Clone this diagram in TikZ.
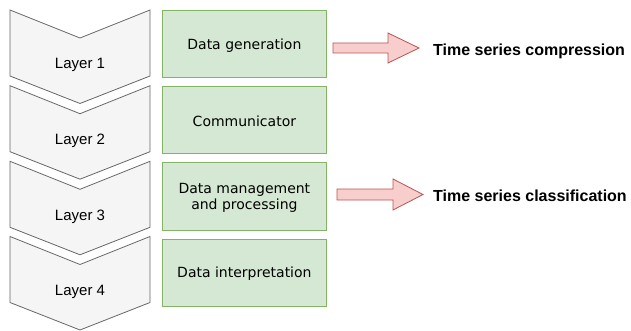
\documentclass[tikz,border=0pt]{standalone}
\usepackage{fontspec}
\setmainfont{Liberation Sans}
\newfontfamily\boxfont{DejaVu Sans}
\definecolor{chevfill}{HTML}{F5F5F5}
\definecolor{chevline}{HTML}{666666}
\definecolor{grnfill}{HTML}{D5E8D4}
\definecolor{grnline}{HTML}{82B366}
\definecolor{redfill}{HTML}{F8CECC}
\definecolor{redline}{HTML}{B85450}
\begin{document}
\begin{tikzpicture}[x=1pt,y=-1pt,
  chev/.style={fill=chevfill,draw=chevline,line width=0.8pt,line join=miter},
  layerlabel/.style={font=\fontsize{15}{18}\selectfont,text=black,inner sep=0pt,anchor=base},
  greenbox/.style={fill=grnfill,draw=grnline,line width=0.8pt,minimum width=164pt,minimum height=67pt,
    inner sep=0pt,anchor=north west},
  boxtext/.style={align=center,font=\boxfont\fontsize{14}{16}\selectfont,inner sep=0pt},
  bigarrow/.style={fill=redfill,draw=redline,line width=0.8pt,line join=miter},
  outlabel/.style={font=\bfseries\fontsize{16}{19}\selectfont,anchor=base west,inner sep=0pt}]
\useasboundingbox (0,0) rectangle (631,331);
% chevrons
\foreach \t/\n in {10/1,85.7/2,161.3/3,236.5/4}{
  \draw[chev] (10,\t) -- (80,\t+28) -- (150,\t) -- (150,\t+66) -- (80,\t+93.5) -- (10,\t+66) -- cycle;
  \node[layerlabel] (layer\n) at (80,\t+59) {Layer \n};
}
% green boxes
\node[greenbox] (b1) at (162,10) {};
\node[greenbox] (b2) at (162,86) {};
\node[greenbox] (b3) at (162,162.5) {};
\node[greenbox] (b4) at (162,238.5) {};
\node[boxtext] (l1) at ([yshift=-1.5pt]b1.center) {Data generation};
\node[boxtext] (l2) at ([yshift=-1.5pt]b2.center) {Communicator};
\node[boxtext] (l3) at ([yshift=-1.5pt]b3.center) {Data management\\and processing};
\node[boxtext] (l4) at ([yshift=-1.5pt]b4.center) {Data interpretation};
% arrows
\draw[bigarrow] (333,43) -- (388,43) -- (388,33) -- (419,48) -- (388,63) -- (388,53) -- (333,53) -- cycle;
\draw[bigarrow] (337,189) -- (393,189) -- (393,179) -- (423,194.5) -- (393,210) -- (393,200) -- (337,200) -- cycle;
% labels
\node[outlabel] (t1) at (433,55.5) {Time series compression};
\node[outlabel] (t2) at (433,201.2) {Time series classification};
\end{tikzpicture}
\end{document}
